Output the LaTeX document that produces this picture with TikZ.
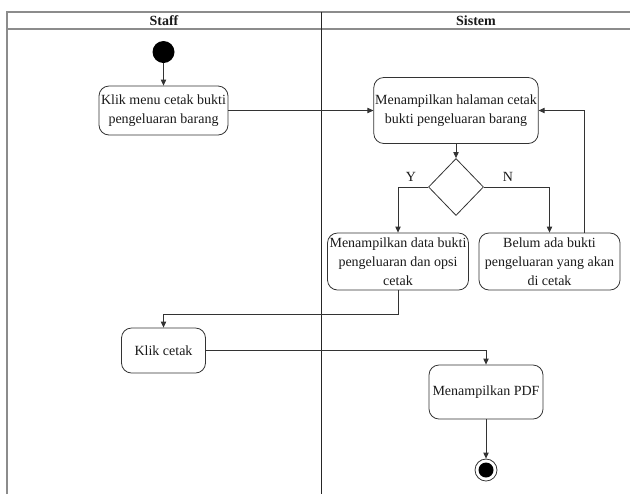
\documentclass[tikz,border=0pt]{standalone}
\usepackage{fontspec}
\setmainfont{Liberation Serif}
\usetikzlibrary{shapes.geometric,arrows.meta,calc}
\begin{document}
\begin{tikzpicture}[x=0.75pt,y=-0.75pt,
  every node/.style={font=\fontsize{10.5pt}{14.25pt}\selectfont, text=black!90},
  act/.style={draw=black!80, line width=0.6pt, rounded corners=7.5pt, align=center, inner sep=1pt},
  dec/.style={draw=black!80, line width=0.6pt, diamond, minimum width=55*0.75pt, minimum height=57*0.75pt, inner sep=0pt},
  arr/.style={draw=black!80, line width=0.6pt, -{Triangle[length=4.5pt,width=4pt]}},
  frame/.style={draw=black!45, line width=1.3pt},
  lane/.style={draw=black!85, line width=0.7pt},
  hdr/.style={font=\fontsize{10.5pt}{12pt}\selectfont\bfseries}
]
\useasboundingbox (0,0) rectangle (630,494);
% swimlane frame
\draw[frame] (7,494) -- (7,12) -- (630,12);
\draw[frame] (7,29) -- (630,29);
\draw[lane] (321,12) -- (321,494);
\node[hdr] (hstaff) at (164,20.5) {Staff};
\node[hdr] (hsistem) at (476,20.5) {Sistem};

% nodes
\node[circle, fill=black, minimum size=22*0.75pt, inner sep=0pt] (start) at (163.5,52) {};
\node[act, minimum width=129*0.75pt, minimum height=49*0.75pt] (klik1) at (163.5,110.5) {Klik menu cetak bukti\\pengeluaran barang};
\node[act, minimum width=163*0.75pt, minimum height=66*0.75pt] (hal) at (456,110.5) {Menampilkan halaman cetak\\bukti pengeluaran barang};
\node[dec] (dia) at (456,187) {};
\node[act, minimum width=141*0.75pt, minimum height=57*0.75pt] (data) at (398,261.5) {Menampilkan data bukti\\pengeluaran dan opsi\\cetak};
\node[act, minimum width=141*0.75pt, minimum height=57*0.75pt] (belum) at (549.5,261.5) {Belum ada bukti\\pengeluaran yang akan\\di cetak};
\node[act, minimum width=84*0.75pt, minimum height=45*0.75pt] (kc) at (163.5,350.5) {Klik cetak};
\node[act, minimum width=114*0.75pt, minimum height=54*0.75pt] (pdf) at (486,392) {Menampilkan PDF};
\node[circle, draw=black!80, line width=0.6pt, minimum size=22*0.75pt, inner sep=0pt] (end) at (486,470) {};
\node[circle, fill=black, minimum size=15*0.75pt, inner sep=0pt] (endin) at (486,470) {};

\node (ly) at (411,177) {Y};
\node (ln) at (508,177) {N};

\coordinate (loopx) at (584,0);
\coordinate (turn) at (0,314);

% connectors
\draw[arr] (start) -- (klik1);
\draw[arr] (klik1.east) -- (hal.west);
\draw[arr] (hal.south) -- (dia.north);
\draw[arr] (dia.west) -| (data.north);
\draw[arr] (dia.east) -| (belum.north);
\draw[arr] (belum.north -| loopx) |- (hal.east);
\draw[arr] (data.south) -- (data.south |- turn) -| (kc.north);
\draw[arr] (kc.east) -| (pdf.north);
\draw[arr] (pdf.south) -- (end.north);
\end{tikzpicture}
\end{document}
